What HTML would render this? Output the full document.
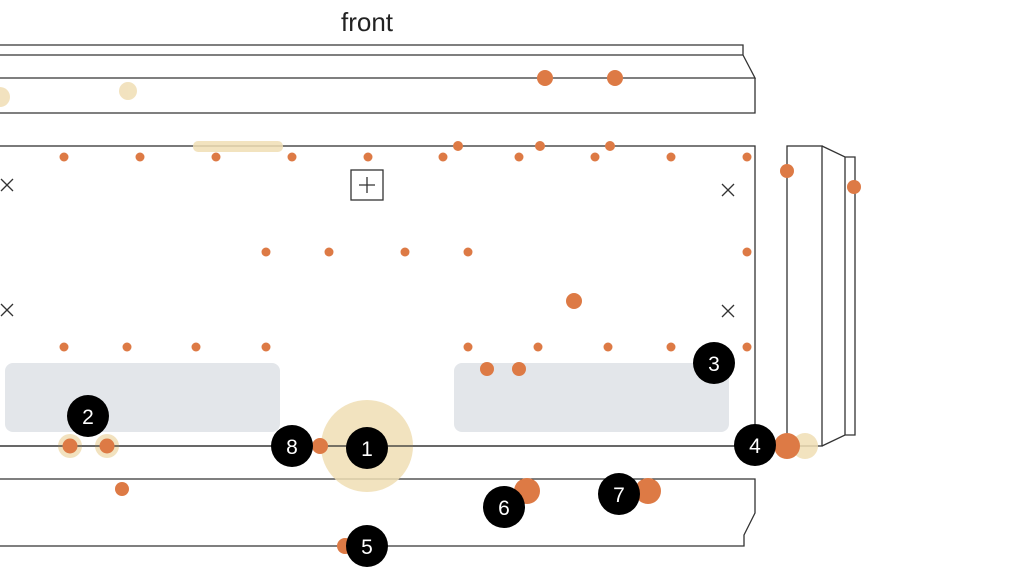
<!DOCTYPE html>
<html><head><meta charset="utf-8"><style>html,body{margin:0;padding:0;background:#fff}svg{display:block}</style></head><body>
<svg width="1024" height="576" viewBox="0 0 1024 576" xmlns="http://www.w3.org/2000/svg">
<text x="367" y="31" text-anchor="middle" font-family="Liberation Sans, sans-serif" font-size="26" fill="#222">front</text>
<g fill="none" stroke="#333" stroke-width="1.3">
<path d="M0 45H743V55H0M743 55L755 78H0M755 78V113H0"/>
<rect x="-2" y="146" width="757" height="300"/>
<path d="M0 479H755V513L744 535V546H0"/>
<rect x="787" y="146" width="35" height="300"/>
<path d="M822 146L845 157H855V435H845L822 446M845 157V435"/>
<rect x="351" y="170" width="32" height="30"/>
<path d="M359 185H375M367 177V193"/>
<path d="M1 179L13 191M13 179L1 191M722 184L734 196M734 184L722 196M1 304L13 316M13 304L1 316M722 305L734 317M734 305L722 317"/>
</g>
<rect x="5" y="363" width="275" height="69" rx="8" fill="#e3e6ea"/>
<rect x="454" y="363" width="275" height="69" rx="8" fill="#e3e6ea"/>
<g fill="#f0deb4" opacity="0.85">
<circle cx="0" cy="97" r="10"/><circle cx="128" cy="91" r="9"/>
<rect x="193" y="141" width="90" height="11" rx="5"/>
<circle cx="367" cy="446" r="46"/>
<circle cx="70" cy="446" r="12"/><circle cx="107" cy="446" r="12"/>
<circle cx="805" cy="446" r="13"/>
</g>
<line x1="0" y1="446" x2="755" y2="446" stroke="#333" stroke-width="1.3"/>
<g fill="#dd7a45">
<circle cx="64" cy="157" r="4.5"/><circle cx="140" cy="157" r="4.5"/><circle cx="216" cy="157" r="4.5"/><circle cx="292" cy="157" r="4.5"/><circle cx="368" cy="157" r="4.5"/><circle cx="443" cy="157" r="4.5"/><circle cx="519" cy="157" r="4.5"/><circle cx="595" cy="157" r="4.5"/><circle cx="671" cy="157" r="4.5"/><circle cx="747" cy="157" r="4.5"/>
<circle cx="458" cy="146" r="5"/><circle cx="540" cy="146" r="5"/><circle cx="610" cy="146" r="5"/>
<circle cx="266" cy="252" r="4.5"/><circle cx="329" cy="252" r="4.5"/><circle cx="405" cy="252" r="4.5"/><circle cx="468" cy="252" r="4.5"/><circle cx="747" cy="252" r="4.5"/>
<circle cx="64" cy="347" r="4.5"/><circle cx="127" cy="347" r="4.5"/><circle cx="196" cy="347" r="4.5"/><circle cx="266" cy="347" r="4.5"/><circle cx="468" cy="347" r="4.5"/><circle cx="538" cy="347" r="4.5"/><circle cx="608" cy="347" r="4.5"/><circle cx="671" cy="347" r="4.5"/><circle cx="747" cy="347" r="4.5"/>
<circle cx="545" cy="78" r="8"/><circle cx="615" cy="78" r="8"/><circle cx="574" cy="301" r="8"/>
<circle cx="487" cy="369" r="7"/><circle cx="519" cy="369" r="7"/><circle cx="122" cy="489" r="7"/>
<circle cx="787" cy="171" r="7"/><circle cx="854" cy="187" r="7"/>
<circle cx="70" cy="446" r="7.5"/><circle cx="107" cy="446" r="7.5"/><circle cx="320" cy="446" r="8"/>
<circle cx="527" cy="491" r="13"/><circle cx="648" cy="491" r="13"/><circle cx="787" cy="446" r="13"/><circle cx="345" cy="546" r="8"/>
</g>
<g fill="#000"><circle cx="367" cy="448" r="21"/><circle cx="88" cy="416" r="21"/><circle cx="714" cy="363" r="21"/><circle cx="755" cy="445" r="21"/><circle cx="367" cy="546" r="21"/><circle cx="504" cy="507" r="21"/><circle cx="619" cy="494" r="21"/><circle cx="292" cy="446" r="21"/></g>
<g fill="#fff" font-family="Liberation Sans, sans-serif" font-size="21" text-anchor="middle">
<text x="367" y="456">1</text><text x="88" y="424">2</text><text x="714" y="371">3</text><text x="755" y="453">4</text><text x="367" y="554">5</text><text x="504" y="515">6</text><text x="619" y="502">7</text><text x="292" y="454">8</text>
</g>
</svg>
</body></html>
